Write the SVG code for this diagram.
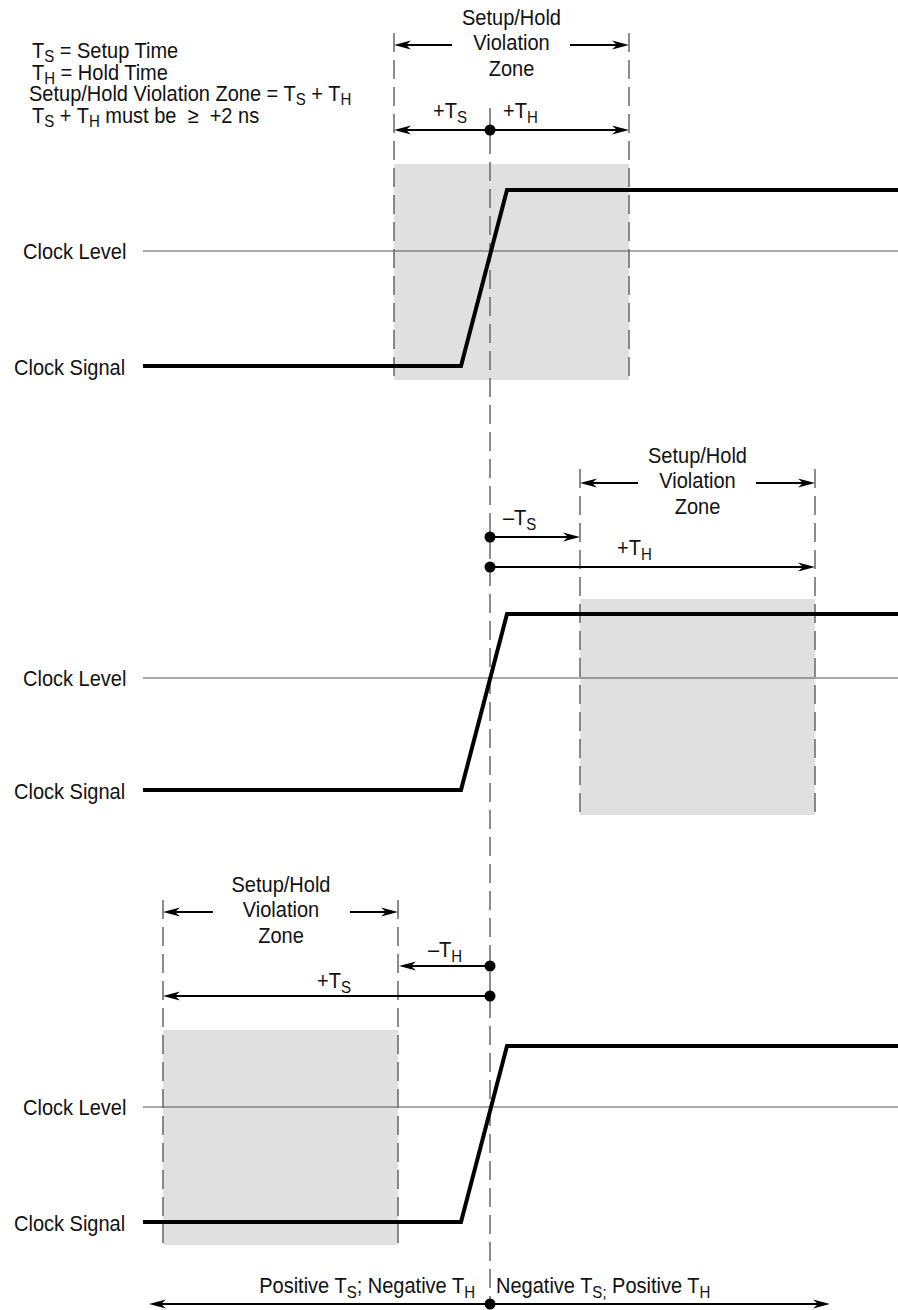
<svg xmlns="http://www.w3.org/2000/svg" width="898" height="1310" viewBox="0 0 898 1310">
  <style>
    .t { font-family: "Liberation Sans", Arial, sans-serif; font-size: 22px; fill: #111; }
    .s { font-size: 16.5px; }
    .zone { fill: #e0e0e0; }
    .lvl { stroke: #555; stroke-width: 1; fill: none; }
    .dash { stroke: #666; stroke-width: 1.5; stroke-dasharray: 19 8; fill: none; }
    .sig { stroke: #000; stroke-width: 4; fill: none; stroke-linejoin: miter; }
    .arr { stroke: #000; stroke-width: 2; fill: none; marker-end: url(#ah); }
    .dot { fill: #000; }
  </style>
  <defs>
    <marker id="ah" markerUnits="userSpaceOnUse" viewBox="0 0 17 10" refX="13" refY="5" markerWidth="17" markerHeight="10" orient="auto">
      <path d="M0,0.5 L17,5 L0,9.5 L5,5 z" fill="#000"/>
    </marker>
  </defs>
  <rect width="898" height="1310" fill="#fff"/>

  <!-- zones -->
  <g id="zone-top"><rect class="zone" x="394" y="164" width="235" height="216"/></g>
  <g id="zone-mid"><rect class="zone" x="580" y="599" width="235" height="216"/></g>
  <g id="zone-bot"><rect class="zone" x="163" y="1030" width="235" height="215"/></g>

  <!-- clock level lines -->
  <g id="levels">
    <line class="lvl" x1="143" y1="251" x2="898" y2="251"/>
    <line class="lvl" x1="143" y1="678" x2="898" y2="678"/>
    <line class="lvl" x1="143" y1="1107" x2="898" y2="1107"/>
  </g>

  <!-- dashed guide lines -->
  <g id="guides">
    <line class="dash" x1="394" y1="33" x2="394" y2="380"/>
    <line class="dash" x1="629" y1="33" x2="629" y2="380"/>
    <line class="dash" x1="580" y1="469" x2="580" y2="815"/>
    <line class="dash" x1="815" y1="469" x2="815" y2="815"/>
    <line class="dash" x1="163" y1="900" x2="163" y2="1245"/>
    <line class="dash" x1="398" y1="900" x2="398" y2="1245"/>
    <line class="dash" x1="490" y1="108" x2="490" y2="1300"/>
  </g>

  <!-- signals -->
  <g id="signal-top"><polyline class="sig" points="143,366 461,366 507,190 898,190"/></g>
  <g id="signal-mid"><polyline class="sig" points="143,790 461,790 507,614 898,614"/></g>
  <g id="signal-bot"><polyline class="sig" points="143,1222 461,1222 507,1046 898,1046"/></g>

  <!-- connectors -->
  <g id="connectors">
    <line class="arr" x1="452" y1="45" x2="398" y2="45"/>
    <line class="arr" x1="570" y1="45" x2="625" y2="45"/>
    <line class="arr" x1="490" y1="130" x2="398" y2="130"/>
    <line class="arr" x1="490" y1="130" x2="625" y2="130"/>

    <line class="arr" x1="638" y1="483" x2="584" y2="483"/>
    <line class="arr" x1="756" y1="483" x2="811" y2="483"/>
    <line class="arr" x1="490" y1="537" x2="576" y2="537"/>
    <line class="arr" x1="490" y1="567" x2="811" y2="567"/>

    <line class="arr" x1="213" y1="912" x2="167" y2="912"/>
    <line class="arr" x1="350" y1="912" x2="394" y2="912"/>
    <line class="arr" x1="490" y1="966" x2="403" y2="966"/>
    <line class="arr" x1="490" y1="996" x2="167" y2="996"/>

    <line class="arr" x1="490" y1="1304" x2="153" y2="1304"/>
    <line class="arr" x1="490" y1="1304" x2="826" y2="1304"/>
  </g>

  <g id="dots">
    <circle class="dot" cx="490" cy="130" r="5.5"/>
    <circle class="dot" cx="490" cy="537" r="5.5"/>
    <circle class="dot" cx="490" cy="567" r="5.5"/>
    <circle class="dot" cx="490" cy="966" r="5.5"/>
    <circle class="dot" cx="490" cy="996" r="5.5"/>
    <circle class="dot" cx="490" cy="1304" r="5.5"/>
  </g>

  <!-- legend -->
  <g id="legend">
    <text class="t" transform="translate(32,58) scale(0.91,1)">T<tspan class="s" dy="4">S</tspan><tspan dy="-4"> = Setup Time</tspan></text>
    <text class="t" transform="translate(32,80) scale(0.91,1)">T<tspan class="s" dy="4">H</tspan><tspan dy="-4"> = Hold Time</tspan></text>
    <text class="t" transform="translate(29,101) scale(0.91,1)">Setup/Hold Violation Zone = T<tspan class="s" dy="4">S</tspan><tspan dy="-4"> + T</tspan><tspan class="s" dy="4">H</tspan></text>
    <text class="t" transform="translate(32,123) scale(0.91,1)">T<tspan class="s" dy="4">S</tspan><tspan dy="-4"> + T</tspan><tspan class="s" dy="4">H</tspan><tspan dy="-4"> must be&#160; ≥&#160; +2 ns</tspan></text>
  </g>

  <!-- top panel labels -->
  <g id="top-zone-label">
    <text class="t" text-anchor="middle" transform="translate(511.5,25) scale(0.91,1)">Setup/Hold</text>
    <text class="t" text-anchor="middle" transform="translate(511.5,50) scale(0.91,1)">Violation</text>
    <text class="t" text-anchor="middle" transform="translate(511.5,76) scale(0.91,1)">Zone</text>
  </g>
  <g id="top-ts"><text class="t" transform="translate(433,118) scale(0.91,1)">+T<tspan class="s" dy="5">S</tspan></text></g>
  <g id="top-th"><text class="t" transform="translate(503,118) scale(0.91,1)">+T<tspan class="s" dy="5">H</tspan></text></g>
  <g id="top-level"><text class="t" transform="translate(23,259) scale(0.91,1)">Clock Level</text></g>
  <g id="top-signal"><text class="t" transform="translate(14,375) scale(0.91,1)">Clock Signal</text></g>

  <!-- middle panel labels -->
  <g id="mid-zone-label">
    <text class="t" text-anchor="middle" transform="translate(697.5,463) scale(0.91,1)">Setup/Hold</text>
    <text class="t" text-anchor="middle" transform="translate(697.5,488) scale(0.91,1)">Violation</text>
    <text class="t" text-anchor="middle" transform="translate(697.5,514) scale(0.91,1)">Zone</text>
  </g>
  <g id="mid-ts"><text class="t" transform="translate(503,525) scale(0.91,1)">–T<tspan class="s" dy="5">S</tspan></text></g>
  <g id="mid-th"><text class="t" transform="translate(617,555) scale(0.91,1)">+T<tspan class="s" dy="5">H</tspan></text></g>
  <g id="mid-level"><text class="t" transform="translate(23,686) scale(0.91,1)">Clock Level</text></g>
  <g id="mid-signal"><text class="t" transform="translate(14,799) scale(0.91,1)">Clock Signal</text></g>

  <!-- bottom panel labels -->
  <g id="bot-zone-label">
    <text class="t" text-anchor="middle" transform="translate(281,892) scale(0.91,1)">Setup/Hold</text>
    <text class="t" text-anchor="middle" transform="translate(281,917) scale(0.91,1)">Violation</text>
    <text class="t" text-anchor="middle" transform="translate(281,943) scale(0.91,1)">Zone</text>
  </g>
  <g id="bot-th"><text class="t" transform="translate(428,957) scale(0.91,1)">–T<tspan class="s" dy="5">H</tspan></text></g>
  <g id="bot-ts"><text class="t" transform="translate(317,988) scale(0.91,1)">+T<tspan class="s" dy="5">S</tspan></text></g>
  <g id="bot-level"><text class="t" transform="translate(23,1115) scale(0.91,1)">Clock Level</text></g>
  <g id="bot-signal"><text class="t" transform="translate(14,1231) scale(0.91,1)">Clock Signal</text></g>

  <!-- axis labels -->
  <g id="axis-left"><text class="t" text-anchor="end" transform="translate(475,1293) scale(0.91,1)">Positive T<tspan class="s" dy="5">S</tspan><tspan dy="-5">; Negative T</tspan><tspan class="s" dy="5">H</tspan></text></g>
  <g id="axis-right"><text class="t" transform="translate(496,1293) scale(0.91,1)">Negative T<tspan class="s" dy="5">S;</tspan><tspan dy="-5"> Positive T</tspan><tspan class="s" dy="5">H</tspan></text></g>
</svg>
